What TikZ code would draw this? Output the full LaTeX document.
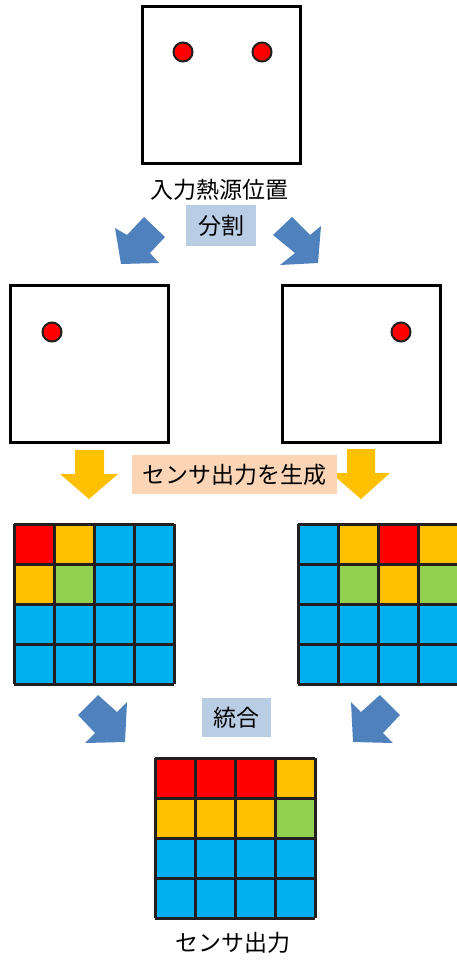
\documentclass[tikz,border=0pt]{standalone}
\usepackage{fontspec}
\setmainfont{Noto Sans CJK JP}
\definecolor{arrowblue}{HTML}{4F81BD}
\definecolor{lblblue}{HTML}{B9CDE5}
\definecolor{peach}{HTML}{FBD5B5}
\definecolor{cyel}{HTML}{FFC000}
\definecolor{cblue}{HTML}{00B0F0}
\definecolor{cgreen}{HTML}{92D050}
\definecolor{cred}{HTML}{FF0000}
\definecolor{gline}{HTML}{231F20}
\begin{document}
\begin{tikzpicture}[x=1pt,y=-1pt,
  frame/.style={draw=black,line width=3pt,fill=white,minimum width=158pt,minimum height=157pt,inner sep=0pt},
  src/.style={circle,draw=gline,line width=2pt,fill=cred,minimum size=19pt,inner sep=0pt},
  lbl/.style={font=\fontsize{23}{27}\selectfont,inner sep=0pt},
  tagbox/.style={lbl,minimum height=39pt},
  barrow/.style={fill=arrowblue},
  yarrow/.style={fill=cyel},
  gridline/.style={draw=gline,line width=3pt}]
\useasboundingbox (0,0) rectangle (456,961);
\fill[white] (0,0) rectangle (456,961);

% input frame
\node[frame] (in) at (221.5,85) {};
\node[src] (s1) at (183,52) {};
\node[src] (s2) at (262,52) {};
\node[lbl] (inlbl) at (219,190) {入力熱源位置};
\node[tagbox,fill=lblblue,minimum width=70pt,minimum height=41pt] (split) at (221,225.5) {分割};

% split arrows
\fill[barrow] (144,217) -- (127,235) -- (115,228) -- (121,264) -- (159,263) -- (150,253) -- (165,237) -- cycle;
\fill[barrow] (292,217) -- (310,235) -- (321,226) -- (318,263) -- (280,265) -- (295,253) -- (273,235) -- cycle;

% split frames
\node[frame] (L) at (89.5,363.5) {};
\node[src] (sL) at (52,332) {};
\node[frame] (R) at (361,363.5) {};
\node[src] (sR) at (401,332) {};

% generate arrows
\fill[yarrow] (75,450) -- (104,450) -- (104,474) -- (118,474) -- (89,499) -- (60,474) -- (75,474) -- cycle;
\fill[yarrow] (347,449) -- (375,449) -- (375,473) -- (390,473) -- (361,499) -- (331,473) -- (347,473) -- cycle;
\node[tagbox,fill=peach,minimum width=205pt] (gen) at (234.5,474.5) {センサ出力を生成};

% grids
\newcommand\cellgrid[3]{%
  \begin{scope}[shift={(#1,#2)}]
  \foreach \c [count=\i from 0] in {#3} {
    \pgfmathtruncatemacro\cc{mod(\i,4)}
    \pgfmathtruncatemacro\rr{div(\i,4)}
    \fill[\c] (40*\cc,40*\rr) rectangle ++(40,40);
  }
  \foreach \k in {0,1,2,3,4} {
    \draw[gridline] (40*\k,0) -- (40*\k,160);
    \draw[gridline] (0,40*\k) -- (160,40*\k);
  }
  \end{scope}}
\cellgrid{14}{524}{cred,cyel,cblue,cblue, cyel,cgreen,cblue,cblue, cblue,cblue,cblue,cblue, cblue,cblue,cblue,cblue}
\cellgrid{298}{524}{cblue,cyel,cred,cyel, cblue,cgreen,cyel,cgreen, cblue,cblue,cblue,cblue, cblue,cblue,cblue,cblue}
\node[minimum size=160pt,inner sep=0pt] (gL) at (94,604) {};
\node[minimum size=160pt,inner sep=0pt] (gR) at (378,604) {};

% merge arrows
\fill[barrow] (98,695) -- (117,712) -- (127,702) -- (125,742) -- (85,743) -- (95,733) -- (78,715) -- cycle;
\fill[barrow] (380,695) -- (361,712) -- (351,702) -- (353,742) -- (393,743) -- (383,733) -- (400,715) -- cycle;
\node[tagbox,fill=lblblue,minimum width=69pt] (merge) at (236.5,717.5) {統合};

% output grid
\cellgrid{155}{758}{cred,cred,cred,cyel, cyel,cyel,cyel,cgreen, cblue,cblue,cblue,cblue, cblue,cblue,cblue,cblue}
\node[minimum size=160pt,inner sep=0pt] (gOut) at (235,838) {};
\node[lbl] (outlbl) at (233,943) {センサ出力};
\end{tikzpicture}
\end{document}
